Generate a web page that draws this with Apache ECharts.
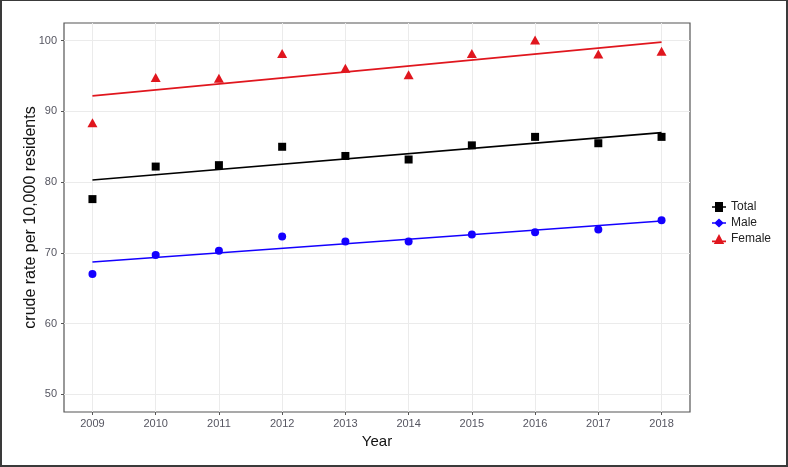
<!DOCTYPE html>
<html>
<head>
<meta charset="utf-8">
<script src="https://cdn.jsdelivr.net/npm/echarts@6/dist/echarts.min.js"></script>
<style>
html,body{margin:0;padding:0;background:#fff;}
#frame{width:788px;height:467px;box-sizing:border-box;border:2px solid #3a3a3a;border-top-width:1px;position:relative;background:#fff;}
#chart{position:absolute;left:-2px;top:-1px;width:788px;height:467px;}
</style>
</head>
<body>
<div id="frame"><div id="chart"></div></div>
<script>
var years = [2009, 2010, 2011, 2012, 2013, 2014, 2015, 2016, 2017, 2018];
var totalVals = [77.6, 82.2, 82.4, 85.0, 83.7, 83.2, 85.2, 86.4, 85.5, 86.4];
var maleVals = [67.0, 69.7, 70.3, 72.3, 71.6, 71.6, 72.6, 72.9, 73.3, 74.6];
var femaleVals = [88.4, 94.8, 94.7, 98.2, 96.1, 95.2, 98.2, 100.1, 98.1, 98.5];
// fitted trend line end points (2009, 2018)
var totalFit = [80.3, 87.0];
var maleFit = [68.7, 74.5];
var femaleFit = [92.2, 99.8];
var yTicks = [50, 60, 70, 80, 90, 100];
var yMinor = [55, 65, 75, 85, 95];
var xMinor = [2009.5, 2010.5, 2011.5, 2012.5, 2013.5, 2014.5, 2015.5, 2016.5, 2017.5];

var cBlack = '#000000', cBlue = '#1400ff', cRed = '#e0161e';
var font = 'Liberation Sans, Arial, sans-serif';

function pts(vals){ return years.map(function(y,i){ return [y, vals[i]]; }); }
function fit(v){ return [[years[0], v[0]], [years[years.length-1], v[1]]]; }

var chart = echarts.init(document.getElementById('chart'), null, {renderer:'canvas'});
var gridCol = '#ebebeb';
chart.setOption({
  animation: false,
  grid: {left: 64, top: 23, width: 626, height: 389, show: true, borderColor: '#555', borderWidth: 1.2, backgroundColor: 'transparent'},
  xAxis: {
    type: 'value', min: 2008.55, max: 2018.45,
    name: 'Year', nameLocation: 'middle', nameGap: 22,
    nameTextStyle: {fontSize: 15, color: '#111', fontFamily: font},
    axisLine: {show: false},
    axisTick: {show: true, length: 3, customValues: years, lineStyle: {color: '#555'}},
    axisLabel: {customValues: years, margin: 6, fontSize: 11, color: '#555560', fontFamily: font,
      formatter: function(v){ return String(Math.round(v)); }},
    splitLine: {show: true, customValues: years.concat(xMinor), lineStyle: {color: gridCol, width: 1}}
  },
  yAxis: {
    type: 'value', min: 47.5, max: 102.5,
    name: 'crude rate per 10,000 residents', nameLocation: 'middle', nameGap: 25, nameMoveOverlap: false,
    nameTextStyle: {fontSize: 16, color: '#111', fontFamily: font},
    axisLine: {show: false},
    axisTick: {show: true, length: 3, customValues: yTicks, lineStyle: {color: '#555'}},
    axisLabel: {customValues: yTicks, margin: 7, fontSize: 11, color: '#555560', fontFamily: font},
    splitLine: {show: true, customValues: yTicks.concat(yMinor), lineStyle: {color: gridCol, width: 1}}
  },
  legend: {
    orient: 'vertical', left: 707, top: 196, itemWidth: 14, itemHeight: 10, itemGap: 4,
    textStyle: {fontSize: 12, color: '#222', fontFamily: font},
    data: [
      {name: 'Total', icon: 'path://M0,4.2 L3,4.2 L3,0 L11,0 L11,4.2 L14,4.2 L14,5.8 L11,5.8 L11,10 L3,10 L3,5.8 L0,5.8 Z', itemStyle: {color: cBlack}},
      {name: 'Male', icon: 'path://M0,4.3 L3,4.3 L7,0.5 L11,4.3 L14,4.3 L14,5.7 L11,5.7 L7,9.5 L3,5.7 L0,5.7 Z', itemStyle: {color: cBlue}},
      {name: 'Female', icon: 'path://M0,6.6 L3.6,6.6 L7,0 L10.4,6.6 L14,6.6 L14,8.2 L11.2,8.2 L12.2,10 L1.8,10 L2.8,8.2 L0,8.2 Z', itemStyle: {color: cRed}}
    ]
  },
  series: [
    {name: 'Total', type: 'line', data: fit(totalFit), showSymbol: false, symbol: 'none', lineStyle: {color: cBlack, width: 1.6}, itemStyle: {color: cBlack}, z: 2},
    {name: 'Male', type: 'line', data: fit(maleFit), showSymbol: false, symbol: 'none', lineStyle: {color: cBlue, width: 1.6}, itemStyle: {color: cBlue}, z: 2},
    {name: 'Female', type: 'line', data: fit(femaleFit), showSymbol: false, symbol: 'none', lineStyle: {color: cRed, width: 1.6}, itemStyle: {color: cRed}, z: 2},
    {name: 'Total', type: 'scatter', data: pts(totalVals), symbol: 'rect', symbolSize: 8, itemStyle: {color: cBlack, opacity: 1}, z: 3},
    {name: 'Male', type: 'scatter', data: pts(maleVals), symbol: 'circle', symbolSize: 8, itemStyle: {color: cBlue, opacity: 1}, z: 3},
    {name: 'Female', type: 'scatter', data: pts(femaleVals), symbol: 'triangle', symbolSize: [10, 9], itemStyle: {color: cRed, opacity: 1}, z: 3}
  ]
});
</script>
</body>
</html>
